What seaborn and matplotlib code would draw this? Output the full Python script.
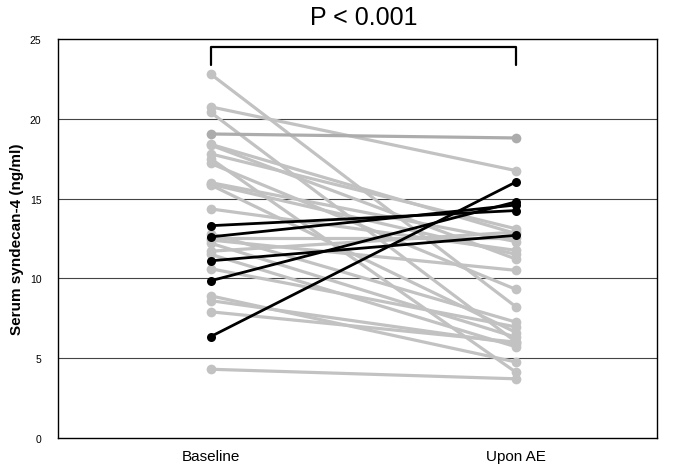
import pandas as pd
import seaborn as sns
import matplotlib.pyplot as plt
import numpy as np

# paired serum syndecan-4 values (ng/ml)
baseline_gray = [22.8, 20.75, 20.4, 18.4, 18.35, 17.8, 17.5, 17.2, 16.0, 15.9, 15.85,
                 14.35, 12.8, 12.5, 12.4, 12.2, 11.7, 11.5, 10.6, 8.9, 8.6, 7.9, 4.3]
upon_gray = [8.2, 16.75, 6.0, 12.8, 11.2, 13.1, 4.1, 9.3, 12.3, 11.5, 6.6,
             11.75, 7.25, 12.5, 10.5, 6.3, 12.9, 5.7, 6.95, 4.75, 5.9, 6.0, 3.7]
baseline_flat = [19.05]
upon_flat = [18.8]
baseline_black = [13.3, 12.6, 11.1, 9.85, 6.35]
upon_black = [14.25, 14.6, 12.7, 14.8, 16.05]
time_labels = ['Baseline', 'Upon AE']


def long_form(before, after, tag):
    rows = []
    for i, (b, a) in enumerate(zip(before, after)):
        rows.append({'subject': f'{tag}{i}', 'time': 0, 'value': b})
        rows.append({'subject': f'{tag}{i}', 'time': 1, 'value': a})
    return pd.DataFrame(rows)


df_gray = long_form(baseline_gray, upon_gray, 'g')
df_flat = long_form(baseline_flat, upon_flat, 'f')
df_black = long_form(baseline_black, upon_black, 'b')

sns.set_style('white')
plt.rcParams['font.family'] = ['Liberation Sans', 'DejaVu Sans']
plt.rcParams['text.color'] = 'black'
plt.rcParams['axes.labelcolor'] = 'black'
plt.rcParams['xtick.color'] = 'black'
plt.rcParams['ytick.color'] = 'black'

fig = plt.figure(figsize=(6.75, 4.77), dpi=100)
ax = fig.add_axes([0.086, 0.08, 0.887, 0.836])

for v in [5, 10, 15, 20]:
    ax.axhline(v, color='#444444', lw=0.8, zorder=0)

sns.lineplot(data=df_gray, x='time', y='value', units='subject', estimator=None,
             color='#c2c2c2', lw=2.3, marker='o', markersize=7, markeredgewidth=0, ax=ax)
sns.lineplot(data=df_flat, x='time', y='value', units='subject', estimator=None,
             color='#acacac', lw=2.3, marker='o', markersize=7, markeredgewidth=0, ax=ax)
sns.lineplot(data=df_black, x='time', y='value', units='subject', estimator=None,
             color='black', lw=2.0, marker='o', markersize=6.5, markeredgewidth=0, ax=ax)

ax.set_xlim(-0.5, 1.46)
ax.set_ylim(0, 25)
ax.set_yticks([0, 5, 10, 15, 20, 25])
ax.set_xticks([0, 1])
ax.set_xticklabels(time_labels, fontsize=11)
ax.tick_params(axis='y', labelsize=7.5, length=0, pad=12)
ax.tick_params(axis='x', length=0, pad=8)
ax.set_xlabel('')
ax.set_ylabel('Serum syndecan-4 (ng/ml)', fontsize=11, fontweight='bold', labelpad=4)
for s in ax.spines.values():
    s.set_color('black')
    s.set_linewidth(1)

# significance bracket
ax.plot([0, 0, 1, 1], [23.4, 24.5, 24.5, 23.4], color='black', lw=1.6, clip_on=False)
ax.text(0.5, 26.4, 'P < 0.001', ha='center', va='center', fontsize=18)

fig.savefig('out.png', dpi=100)
